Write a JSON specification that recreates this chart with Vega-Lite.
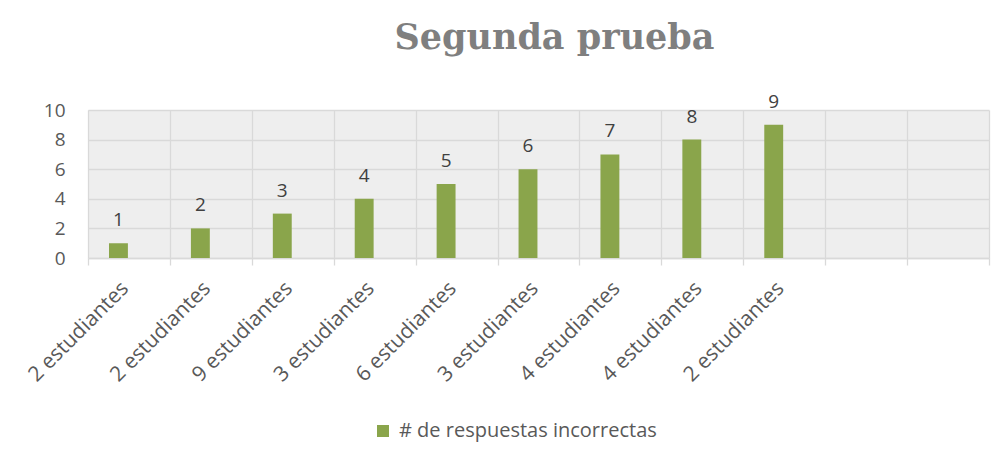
{
  "$schema": "https://vega.github.io/schema/vega-lite/v6.json",
  "autosize": {"type": "none"},
  "width": 901,
  "height": 148,
  "padding": {"left": 88, "top": 110, "right": 17, "bottom": 208},
  "background": "white",
  "title": {
    "text": "Segunda prueba",
    "font": "DejaVu Serif",
    "fontSize": 35,
    "fontWeight": "bold",
    "color": "#7f7f7f",
    "anchor": "middle",
    "frame": "group",
    "dx": 16,
    "offset": 37
  },
  "data": {
    "values": [
      {"key": "1|2 estudiantes", "value": 1, "serie": "# de respuestas incorrectas"},
      {"key": "2|2 estudiantes", "value": 2, "serie": "# de respuestas incorrectas"},
      {"key": "3|9 estudiantes", "value": 3, "serie": "# de respuestas incorrectas"},
      {"key": "4|3 estudiantes", "value": 4, "serie": "# de respuestas incorrectas"},
      {"key": "5|6 estudiantes", "value": 5, "serie": "# de respuestas incorrectas"},
      {"key": "6|3 estudiantes", "value": 6, "serie": "# de respuestas incorrectas"},
      {"key": "7|4 estudiantes", "value": 7, "serie": "# de respuestas incorrectas"},
      {"key": "8|4 estudiantes", "value": 8, "serie": "# de respuestas incorrectas"},
      {"key": "9|2 estudiantes", "value": 9, "serie": "# de respuestas incorrectas"}
    ]
  },
  "encoding": {
    "x": {
      "field": "key",
      "type": "ordinal",
      "sort": null,
      "scale": {
        "domain": ["1|2 estudiantes", "2|2 estudiantes", "3|9 estudiantes", "4|3 estudiantes", "5|6 estudiantes", "6|3 estudiantes", "7|4 estudiantes", "8|4 estudiantes", "9|2 estudiantes", "10|", "11|"],
        "paddingInner": 0,
        "paddingOuter": 0
      },
      "axis": {
        "title": null,
        "labelExpr": "split(datum.value, '|')[1]",
        "labelAngle": -45,
        "labelAlign": "right",
        "labelBaseline": "middle",
        "labelPadding": 20,
        "labelOffset": -4,
        "labelFontSize": 21,
        "labelColor": "#595959",
        "labelFont": "Open Sans",
        "labelLimit": 300,
        "domain": true,
        "domainColor": "#d9d9d9",
        "domainWidth": 1.3,
        "ticks": true,
        "tickBand": "extent",
        "tickColor": "#d9d9d9",
        "tickWidth": 1.3,
        "tickSize": 7,
        "grid": true,
        "gridColor": "#d9d9d9",
        "gridWidth": 1.3
      }
    },
    "xOffset": {
      "field": "serie",
      "type": "nominal",
      "scale": {"domain": ["# de respuestas incorrectas", "_"], "paddingInner": 0.1, "paddingOuter": 1.1}
    },
    "y": {
      "field": "value",
      "type": "quantitative",
      "scale": {"domain": [0, 10], "nice": false},
      "axis": {
        "title": null,
        "values": [0, 2, 4, 6, 8, 10],
        "domain": false,
        "ticks": false,
        "labelPadding": 23,
        "labelFontSize": 19,
        "labelColor": "#595959",
        "labelFont": "Open Sans",
        "grid": true,
        "gridColor": "#d9d9d9",
        "gridWidth": 1.3
      }
    }
  },
  "layer": [
    {
      "mark": {"type": "bar"},
      "encoding": {
        "color": {
          "field": "serie",
          "type": "nominal",
          "scale": {"range": ["#8aa54b"]},
          "legend": {
            "title": null,
            "orient": "none",
            "legendX": 285,
            "legendY": 311,
            "symbolType": "square",
            "symbolSize": 144,
            "symbolStrokeWidth": 0,
            "labelFontSize": 20,
            "labelFont": "Open Sans",
            "labelColor": "#595959",
            "labelOffset": 6,
            "labelLimit": 400
          }
        }
      }
    },
    {
      "mark": {"type": "text", "dy": -17, "baseline": "alphabetic", "fontSize": 19, "font": "Open Sans", "color": "#404040"},
      "encoding": {
        "text": {"field": "value", "type": "quantitative"}
      }
    }
  ],
  "config": {
    "view": {"stroke": null, "fill": "#eeeeee"}
  }
}
